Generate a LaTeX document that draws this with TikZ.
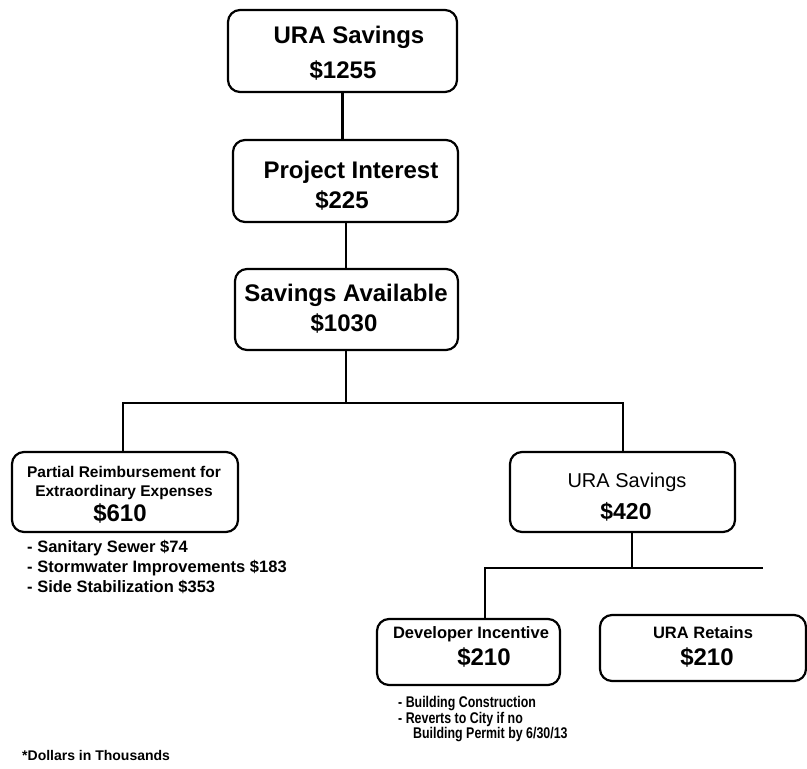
\documentclass[tikz,border=0pt]{standalone}
\usepackage{fontspec}
\setmainfont{Liberation Sans}
\newfontfamily\narrowfont[FakeStretch=0.8]{Liberation Sans}
\begin{document}
\begin{tikzpicture}[x=1pt,y=-1pt,
  box/.style={draw, line width=2.2pt, rounded corners=12pt, inner sep=0pt},
  conn/.style={line width=2.8pt},
  lbl/.style={anchor=base, inner sep=0pt},
  big/.style={font=\bfseries\fontsize{24}{28}\selectfont},
  mid/.style={font=\bfseries\fontsize{15.5}{18}\selectfont},
  bul/.style={anchor=base west, inner sep=0pt, font=\bfseries\fontsize{16.5}{19}\selectfont},
  nbul/.style={anchor=base west, inner sep=0pt, font=\narrowfont\bfseries\fontsize{15.5}{18}\selectfont}]
\useasboundingbox (0,0) rectangle (807,769);
\clip (0,0) rectangle (807,769);

% boxes
\node[box, minimum width=229pt, minimum height=82pt] (b1) at (342.5,51) {};
\node[box, minimum width=225pt, minimum height=82pt] (b2) at (345.5,181) {};
\node[box, minimum width=223pt, minimum height=81pt] (b3) at (346.5,309.5) {};
\node[box, minimum width=226pt, minimum height=80pt] (b4) at (125,492) {};
\node[box, minimum width=225pt, minimum height=80pt] (b5) at (622.5,492) {};
\node[box, minimum width=183pt, minimum height=66pt] (b6) at (468.5,652) {};
\node[box, minimum width=206pt, minimum height=66pt] (b7) at (703,648) {};

% box texts
\node[lbl, big] (b1a) at (349,43.6) {URA Savings};
\node[lbl, big] (b1b) at (343,78.6) {\$1255};
\node[lbl, big] (b2a) at (351,178.6) {Project Interest};
\node[lbl, big] (b2b) at (342,208.6) {\$225};
\node[lbl, big] (b3a) at (346,301.6) {Savings Available};
\node[lbl, big] (b3b) at (344,331.6) {\$1030};
\node[lbl, mid] (b4a) at (124,477) {Partial Reimbursement for};
\node[lbl, mid] (b4b) at (124,496) {Extraordinary Expenses};
\node[lbl, big] (b4c) at (120,521.6) {\$610};
\node[lbl, font=\fontsize{20}{24}\selectfont] (b5a) at (627,487) {URA Savings};
\node[lbl, font=\bfseries\fontsize{23}{27}\selectfont] (b5b) at (626,519) {\$420};
\node[lbl, font=\bfseries\fontsize{16.5}{19}\selectfont] (b6a) at (471,638.5) {Developer Incentive};
\node[lbl, big] (b6b) at (484,665.6) {\$210};
\node[lbl, font=\bfseries\fontsize{16.5}{19}\selectfont] (b7a) at (703,638.5) {URA Retains};
\node[lbl, big] (b7b) at (707,665.6) {\$210};

% bullet lists
\node[bul] (l1) at (27,552) {- Sanitary Sewer \$74};
\node[bul] (l2) at (27,572) {- Stormwater Improvements \$183};
\node[bul] (l3) at (27,592) {- Side Stabilization \$353};
\node[nbul] (m1) at (398,707.7) {- Building Construction};
\node[nbul] (m2) at (398,723) {- Reverts to City if no};
\node[nbul] (m3) at (413,738) {Building Permit by 6/30/13};

% footnote
\node[anchor=base west, inner sep=0pt, font=\bfseries\fontsize{14}{16}\selectfont] (fn) at (22,760) {*Dollars in Thousands};

% connectors
\draw[conn] (b1.south) -- (b1.south |- b2.north);
\coordinate (c23) at (346,0);
\draw[conn] (c23 |- b2.south) -- (c23 |- b3.north);
\coordinate (j1) at (346,403);
\coordinate (ll1) at (123,403);
\coordinate (rr1) at (623,403);
\draw[conn] (j1 |- b3.south) -- (j1);
\draw[conn] (ll1 |- b4.north) -- (ll1) -- (rr1) -- (rr1 |- b5.north);
\coordinate (j2) at (632,568);
\coordinate (ll2) at (485,568);
\coordinate (rr2) at (763,568);
\draw[conn] (j2 |- b5.south) -- (j2);
\draw[conn] (ll2 |- b6.north) -- (ll2) -- (rr2);
\end{tikzpicture}
\end{document}
